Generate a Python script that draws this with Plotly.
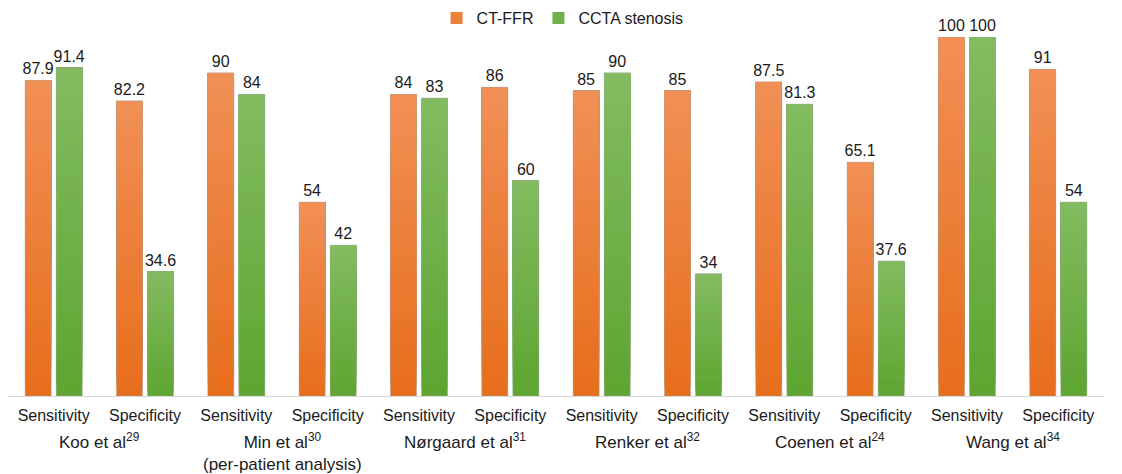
import plotly.graph_objects as go

# Diagnostic performance (%) per study, split into sensitivity / specificity
studies = ["Koo et al<sup>29</sup>",
           "Min et al<sup>30</sup><br>(per-patient analysis)",
           "Nørgaard et al<sup>31</sup>",
           "Renker et al<sup>32</sup>",
           "Coenen et al<sup>24</sup>",
           "Wang et al<sup>34</sup>"]
metrics = ["Sensitivity", "Specificity"]

ct_ffr = [87.9, 82.2, 90, 54, 84, 86, 85, 85, 87.5, 65.1, 100, 91]
ccta_stenosis = [91.4, 34.6, 84, 42, 83, 60, 90, 34, 81.3, 37.6, 100, 54]

positions = list(range(len(studies) * len(metrics)))
tick_labels = metrics * len(studies)

FONT = "Liberation Sans, Arial, sans-serif"
TEXT = "#1a1a1a"

# series styling: (name, values, top colour, bottom colour, offset within group)
BAR_W = 0.285
series = [
    ("CT-FFR", ct_ffr, (241, 143, 85), (231, 110, 28), -0.17 - BAR_W / 2),
    ("CCTA stenosis", ccta_stenosis, (131, 187, 96), (94, 165, 50), 0.17 - BAR_W / 2),
]
N_STEPS = 32  # vertical gradient resolution of each bar


def fmt(v):
    return f"{v:g}"


def mix(c1, c2, t):
    r, g, b = (round(a + (b_ - a) * t) for a, b_ in zip(c1, c2))
    return f"rgb({r},{g},{b})"


fig = go.Figure()
for name, vals, top, bottom, off in series:
    # gradient: overlapping layers, each starting a little higher and
    # reaching to the top of the bar, so no gaps show between bands
    for k in range(N_STEPS):
        t = k / (N_STEPS - 1)
        fig.add_trace(go.Bar(
            x=positions,
            base=[v * k / N_STEPS for v in vals],
            y=[v - v * k / N_STEPS for v in vals],
            offset=off, width=BAR_W,
            marker=dict(color=mix(bottom, top, t), line=dict(width=0)),
            name=name, legendgroup=name,
            showlegend=(k == N_STEPS // 2),
            hoverinfo="skip",
        ))
    # outline + value label over the whole bar
    fig.add_trace(go.Bar(
        x=positions, y=vals, offset=off, width=BAR_W,
        marker=dict(color="rgba(0,0,0,0)",
                    line=dict(color="rgba(165,165,165,0.45)", width=1)),
        text=[fmt(v) for v in vals], textposition="outside",
        constraintext="none",
        textfont=dict(size=16, color=TEXT, family=FONT),
        cliponaxis=False, showlegend=False, legendgroup=name, name=name,
    ))

# Study names centred under each sensitivity/specificity pair
for i, s in enumerate(studies):
    fig.add_annotation(
        x=2 * i + 0.5, y=0, xref="x", yref="paper",
        yanchor="top", yshift=-32, showarrow=False,
        text=s, font=dict(size=17, color=TEXT, family=FONT),
    )

fig.update_layout(
    width=1122, height=474,
    margin=dict(l=8, r=18, t=37, b=78, autoexpand=False),
    paper_bgcolor="white", plot_bgcolor="white",
    barmode="overlay",
    font=dict(family=FONT, color=TEXT),
    showlegend=True,
    legend=dict(orientation="h", x=0.506, xanchor="center",
                yref="container", y=0.962, yanchor="middle",
                font=dict(size=16, color=TEXT), itemwidth=30),
    xaxis=dict(
        tickmode="array", tickvals=positions, ticktext=tick_labels,
        range=[-0.5, len(positions) - 0.5], automargin=False,
        showgrid=False, zeroline=False,
        showline=True, linecolor="#D9D9D9", linewidth=1,
        ticks="outside", ticklen=5, tickcolor="rgba(0,0,0,0)",
        tickfont=dict(size=16, color=TEXT),
    ),
    yaxis=dict(range=[0, 100], visible=False, automargin=False),
)

fig.write_html("out.html")
